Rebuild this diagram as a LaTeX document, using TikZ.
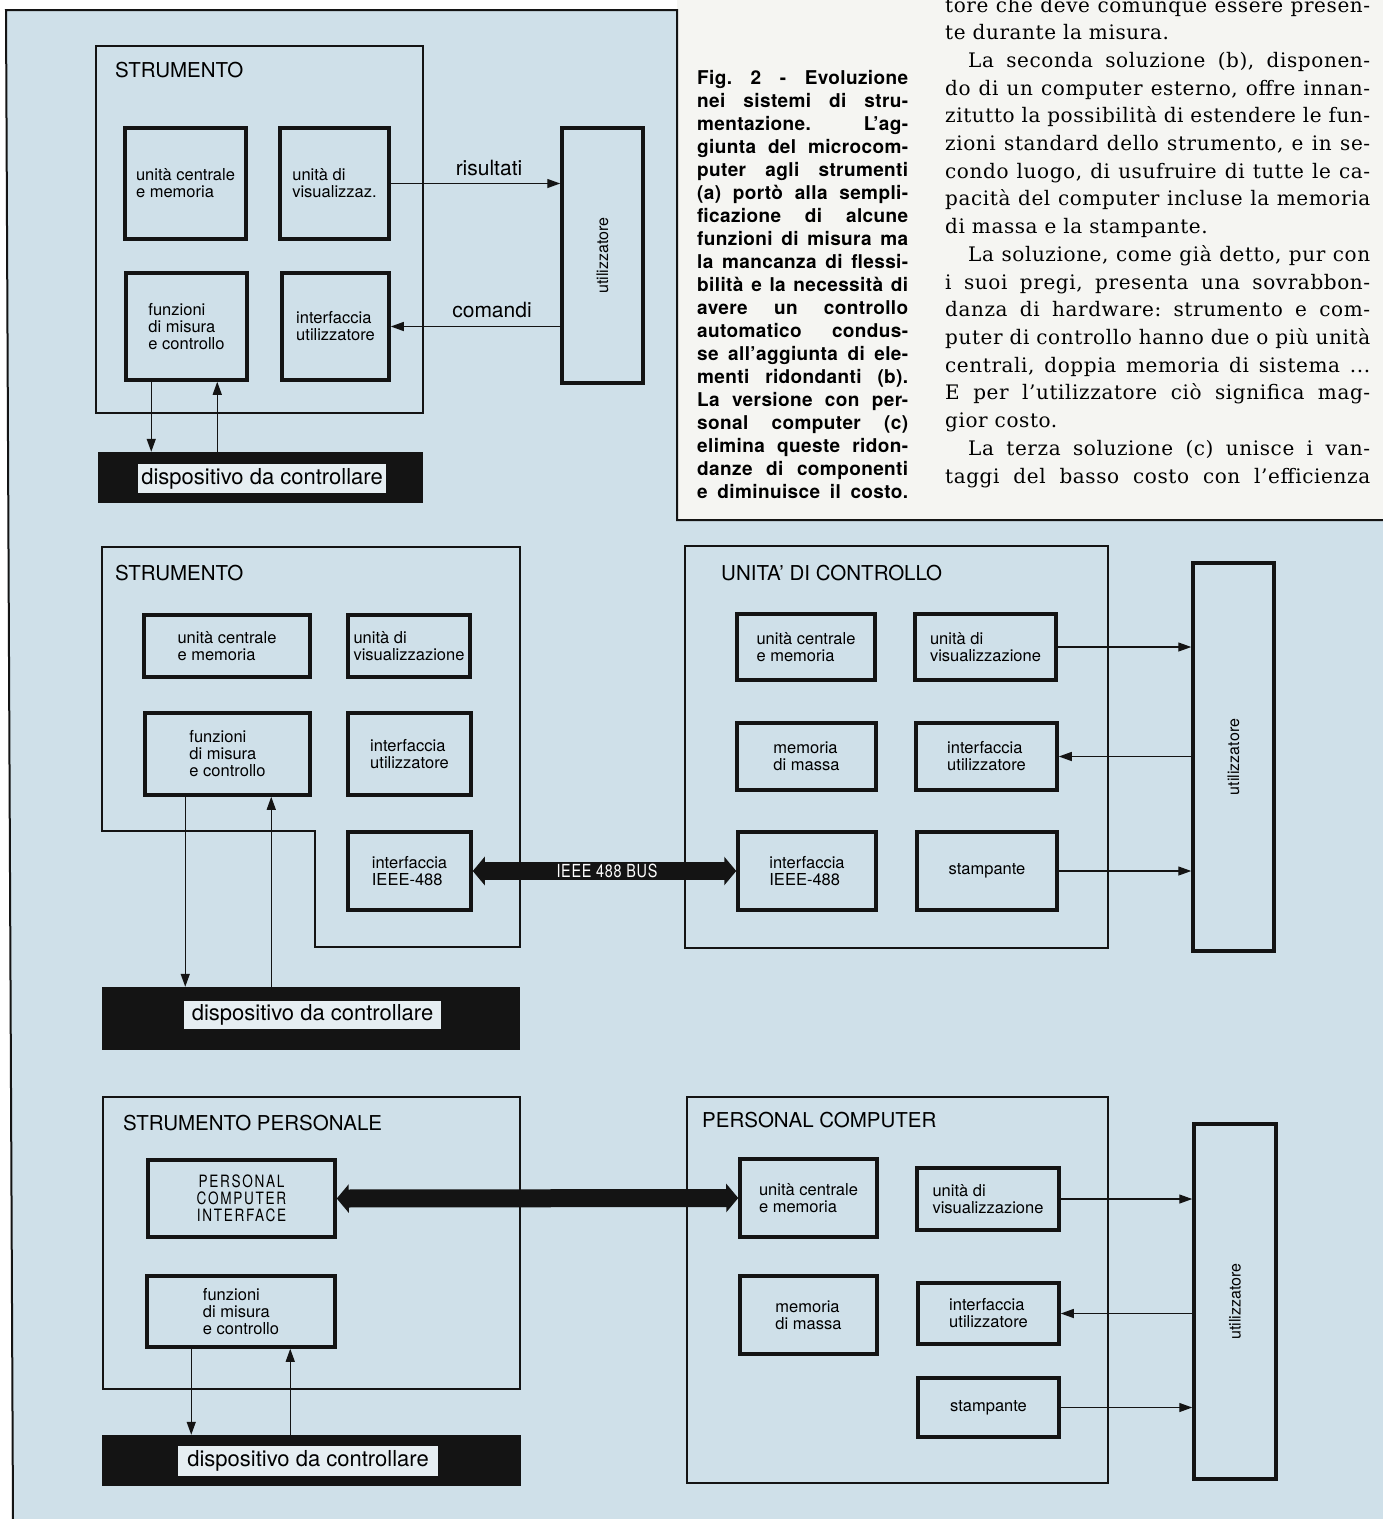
\documentclass[tikz,border=0pt]{standalone}
\usepackage{fontspec}
\setmainfont{TeX Gyre Heros}
\newfontfamily\bodyserif[LetterSpace=3]{DejaVu Serif}
\newfontfamily\capfont[LetterSpace=2]{TeX Gyre Heros}
\newfontfamily\condfont[FakeStretch=0.8,LetterSpace=4]{TeX Gyre Heros}
\newfontfamily\condfontw[FakeStretch=0.8,LetterSpace=10]{TeX Gyre Heros}
\usetikzlibrary{arrows.meta}
\frenchspacing
\definecolor{bg}{RGB}{207,224,233}
\definecolor{paper}{RGB}{245,245,242}
\definecolor{lbl}{RGB}{230,238,242}
\definecolor{ink}{RGB}{20,20,20}
\newcommand{\Bx}[6]{\node[#1, minimum width={(#5-#3)*1pt}, minimum height={(#6-#4)*1pt}] (#2) at ({(#3+#5)/2},{(#4+#6)/2})}
\tikzset{
 tbox/.style={draw=ink, line width=3.5pt, align=left, inner sep=2pt, font=\fontsize{16.5}{17}\selectfont},
 cbox/.style={draw=ink, line width=1.8pt},
 cline/.style={draw=ink, line width=1.8pt},
 ubox/.style={draw=ink, line width=3.5pt},
 dev/.style={fill=ink, draw=none},
 devlbl/.style={fill=lbl, inner sep=0pt, font=\fontsize{22}{24}\selectfont},
 head/.style={anchor=base west, inner sep=0pt, font=\fontsize{20.5}{22}\selectfont},
 arr/.style={draw=ink, line width=1.3pt, -{Triangle[length=13pt,width=9pt]}},
 bus/.style={draw=ink, line width=18pt, {Triangle[length=12pt,width=28pt]}-{Triangle[length=12pt,width=28pt]}},
 bodyt/.style={anchor=base west, inner sep=0pt, font=\bodyserif\fontsize{20}{23}\selectfont},
 capt/.style={anchor=base west, inner sep=0pt, font=\capfont\bfseries\fontsize{19}{23}\selectfont},
 alab/.style={anchor=base, inner sep=0pt, font=\fontsize{21}{23}\selectfont},
 vlab/.style={rotate=90, inner sep=0pt, font=\fontsize{16}{18}\selectfont},
 frame/.style={draw=ink, line width=2pt}
}
\begin{document}
\begin{tikzpicture}[x=1pt,y=-1pt]
\useasboundingbox (0,0) rectangle (1383,1519);
\clip (0,0) rectangle (1383,1519);
\fill[white] (0,0) rectangle (1383,1519);
\fill[paper] (677,0) rectangle (1383,520);
\fill[bg] (6,10) -- (677,10) -- (677,520) -- (1383,520) -- (1383,1519) -- (13,1519) -- cycle;
\draw[frame] (13,1519) -- (6,10) -- (677,10) -- (677,520) -- (1383,520);

% ---------------- panel (a)
\Bx{cbox}{A_box}{96}{46}{423}{413} {};
\node[head] (A_title) at (115,77) {STRUMENTO};
\Bx{tbox}{A_cpu}{125}{128}{246}{239} {unità centrale\\e memoria};
\Bx{tbox}{A_vis}{280}{128}{389}{239} {unità di\\visualizzaz.};
\Bx{tbox}{A_fun}{126}{273}{247}{380} {funzioni\\di misura\\e controllo};
\Bx{tbox}{A_int}{282}{273}{389}{380} {interfaccia\\utilizzatore};
\Bx{ubox,label={[vlab]center:utilizzatore}}{A_ut}{562}{128}{643}{383} {};
\Bx{dev}{A_dev}{98}{452}{423}{503} {};
\node[devlbl, minimum width=248pt, minimum height=29pt] (A_devl) at (262,478.5) {dispositivo da controllare};
\draw[arr] (A_vis.east) -- (A_vis.east -| A_ut.west);
\node[alab] (A_res) at (489,175) {risultati};
\draw[arr] (A_int.east -| A_ut.west) -- (A_int.east);
\node[alab] (A_com) at (492,317) {comandi};
\draw[arr] ([xshift=27pt]A_fun.south west) -- ([xshift=27pt]A_fun.south west |- A_dev.north);
\draw[arr] ([xshift=93pt]A_fun.south west |- A_dev.north) -- ([xshift=93pt]A_fun.south west);

% ---------------- caption
\node[capt] (c1) at (697,84) {\makebox[211pt][s]{Fig. 2 - Evoluzione}};
\node[capt] (c2) at (697,107) {\makebox[211pt][s]{nei sistemi di stru-}};
\node[capt] (c3) at (697,130) {\makebox[211pt][s]{mentazione. L’ag-}};
\node[capt] (c4) at (697,153) {\makebox[211pt][s]{giunta del microcom-}};
\node[capt] (c5) at (697,176) {\makebox[211pt][s]{puter agli strumenti}};
\node[capt] (c6) at (697,199) {\makebox[211pt][s]{(a) portò alla sempli-}};
\node[capt] (c7) at (697,222) {\makebox[211pt][s]{ficazione di alcune}};
\node[capt] (c8) at (697,245) {\makebox[211pt][s]{funzioni di misura ma}};
\node[capt] (c9) at (697,268) {\makebox[211pt][s]{la mancanza di flessi-}};
\node[capt] (c10) at (697,291) {\makebox[211pt][s]{bilità e la necessità di}};
\node[capt] (c11) at (697,314) {\makebox[211pt][s]{avere un controllo}};
\node[capt] (c12) at (697,337) {\makebox[211pt][s]{automatico condus-}};
\node[capt] (c13) at (697,360) {\makebox[211pt][s]{se all’aggiunta di ele-}};
\node[capt] (c14) at (697,383) {\makebox[211pt][s]{menti ridondanti (b).}};
\node[capt] (c15) at (697,406) {\makebox[211pt][s]{La versione con per-}};
\node[capt] (c16) at (697,429) {\makebox[211pt][s]{sonal computer (c)}};
\node[capt] (c17) at (697,452) {\makebox[211pt][s]{elimina queste ridon-}};
\node[capt] (c18) at (697,475) {\makebox[211pt][s]{danze di componenti}};
\node[capt] (c19) at (697,498) {\makebox[211pt][s]{e diminuisce il costo.}};

% ---------------- body text
\node[bodyt] (t1) at (945,12) {\makebox[425pt][s]{tore che deve comunque essere presen-}};
\node[bodyt] (t2) at (945,39.7) {te durante la misura.};
\node[bodyt] (t3) at (968,67.4) {\makebox[402pt][s]{La seconda soluzione (b), disponen-}};
\node[bodyt] (t4) at (945,95.1) {\makebox[425pt][s]{do di un computer esterno, offre innan-}};
\node[bodyt] (t5) at (945,122.8) {\makebox[425pt][s]{zitutto la possibilità di estendere le fun-}};
\node[bodyt] (t6) at (945,150.5) {\makebox[425pt][s]{zioni standard dello strumento, e in se-}};
\node[bodyt] (t7) at (945,178.2) {\makebox[425pt][s]{condo luogo, di usufruire di tutte le ca-}};
\node[bodyt] (t8) at (945,205.9) {\makebox[425pt][s]{pacità del computer incluse la memoria}};
\node[bodyt] (t9) at (945,233.6) {di massa e la stampante.};
\node[bodyt] (t10) at (968,261.3) {\makebox[402pt][s]{La soluzione, come già detto, pur con}};
\node[bodyt] (t11) at (945,289) {\makebox[425pt][s]{i suoi pregi, presenta una sovrabbon-}};
\node[bodyt] (t12) at (945,316.7) {\makebox[425pt][s]{danza di hardware: strumento e com-}};
\node[bodyt] (t13) at (945,344.4) {\makebox[425pt][s]{puter di controllo hanno due o più unità}};
\node[bodyt] (t14) at (945,372.1) {\makebox[425pt][s]{centrali, doppia memoria di sistema ...}};
\node[bodyt] (t15) at (945,399.8) {\makebox[425pt][s]{E per l’utilizzatore ciò significa mag-}};
\node[bodyt] (t16) at (945,427.5) {gior costo.};
\node[bodyt] (t17) at (968,455.2) {\makebox[402pt][s]{La terza soluzione (c) unisce i van-}};
\node[bodyt] (t18) at (945,483) {\makebox[425pt][s]{taggi del basso costo con l’efficienza}};

% ---------------- panel (b) left
\draw[cline] (102,547) -- (520,547) -- (520,947) -- (315,947) -- (315,831) -- (102,831) -- cycle;
\node[head] (B_title) at (115,580) {STRUMENTO};
\Bx{tbox}{B_cpu}{144}{615}{310}{677} {unità centrale\\e memoria};
\Bx{tbox}{B_vis}{348}{615}{470}{677} {unità di\\visualizzazione};
\Bx{tbox}{B_fun}{145}{713}{310}{795} {funzioni\\di misura\\e controllo};
\Bx{tbox}{B_int}{348}{713}{471}{795} {interfaccia\\utilizzatore};
\Bx{tbox}{B_ieee}{348}{832}{471}{910} {interfaccia\\IEEE-488};
\Bx{dev}{B_dev}{102}{987}{520}{1050} {};
\node[devlbl, minimum width=257pt, minimum height=28pt] (B_devl) at (312.5,1015) {dispositivo da controllare};
\draw[arr] ([xshift=42pt]B_fun.south west) -- ([xshift=42pt]B_fun.south west |- B_dev.north);
\draw[arr] ([xshift=128pt]B_fun.south west |- B_dev.north) -- ([xshift=128pt]B_fun.south west);

% ---------------- panel (b) right
\Bx{cbox}{C_box}{685}{546}{1108}{948} {};
\node[head] (C_title) at (721,580) {UNITA’ DI CONTROLLO};
\Bx{tbox}{C_cpu}{737}{614}{875}{680} {unità centrale\\e memoria};
\Bx{tbox}{C_vis}{915}{614}{1056}{680} {unità di\\visualizzazione};
\Bx{tbox}{C_mm}{737}{723}{876}{790} {memoria\\di massa};
\Bx{tbox}{C_int}{916}{723}{1057}{790} {interfaccia\\utilizzatore};
\Bx{tbox}{C_ieee}{738}{832}{876}{910} {interfaccia\\IEEE-488};
\Bx{tbox}{C_stp}{917}{832}{1057}{910} {stampante};
\Bx{ubox,label={[vlab]center:utilizzatore}}{C_ut}{1193}{563}{1274}{951} {};
\draw[arr] (C_vis.east) -- (C_vis.east -| C_ut.west);
\draw[arr] (C_int.east -| C_ut.west) -- (C_int.east);
\draw[arr] (C_stp.east) -- (C_stp.east -| C_ut.west);
\draw[bus] (B_ieee.east) -- (C_ieee.west);
\node[font=\condfont\fontsize{18}{19}\selectfont, text=white, inner sep=0pt] (busl) at (607,871) {IEEE 488 BUS};

% ---------------- panel (c) left
\Bx{cbox}{D_box}{103}{1097}{520}{1389} {};
\node[head] (D_title) at (123,1130) {STRUMENTO PERSONALE};
\Bx{tbox,align=center,font=\condfontw\fontsize{17}{17}\selectfont}{D_pci}{148}{1160}{335}{1237} {PERSONAL\\COMPUTER\\INTERFACE};
\Bx{tbox}{D_fun}{147}{1276}{335}{1347} {funzioni\\di misura\\e controllo};
\Bx{dev}{D_dev}{102}{1435}{521}{1486} {};
\node[devlbl, minimum width=260pt, minimum height=30pt] (D_devl) at (308,1461) {dispositivo da controllare};
\draw[arr] ([xshift=46pt]D_fun.south west) -- ([xshift=46pt]D_fun.south west |- D_dev.north);
\draw[arr] ([xshift=145pt]D_fun.south west |- D_dev.north) -- ([xshift=145pt]D_fun.south west);

% ---------------- panel (c) right
\Bx{cbox}{E_box}{687}{1097}{1108}{1483} {};
\node[head] (E_title) at (702,1127) {PERSONAL COMPUTER};
\Bx{tbox}{E_cpu}{740}{1159}{877}{1237} {unità centrale\\e memoria};
\Bx{tbox}{E_vis}{917}{1168}{1059}{1230} {unità di\\visualizzazione};
\Bx{tbox}{E_mm}{740}{1276}{877}{1354} {memoria\\di massa};
\Bx{tbox}{E_int}{918}{1283}{1059}{1344} {interfaccia\\utilizzatore};
\Bx{tbox}{E_stp}{918}{1378}{1059}{1437} {stampante};
\Bx{ubox,label={[vlab]center:utilizzatore}}{E_ut}{1194}{1124}{1276}{1479} {};
\draw[arr] (E_vis.east) -- (E_vis.east -| E_ut.west);
\draw[arr] (E_int.east -| E_ut.west) -- (E_int.east);
\draw[arr] (E_stp.east) -- (E_stp.east -| E_ut.west);
\draw[bus] (D_pci.east) -- (E_cpu.west);
\end{tikzpicture}
\end{document}
